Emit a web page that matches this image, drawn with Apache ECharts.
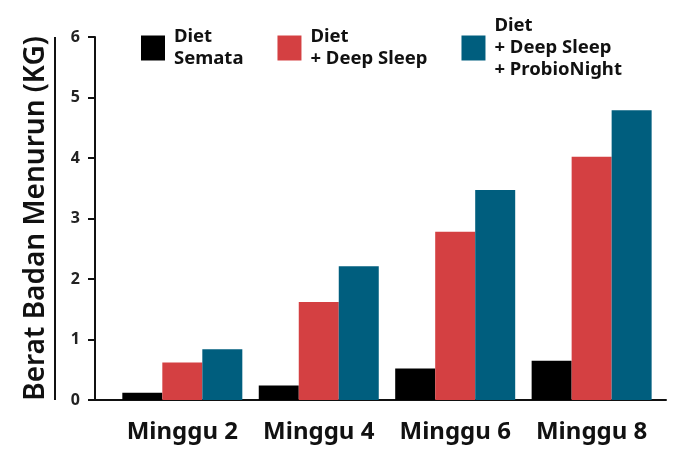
<!DOCTYPE html>
<html>
<head>
<meta charset="utf-8">
<script src="https://cdn.jsdelivr.net/npm/echarts@6/dist/echarts.min.js"></script>
<style>
  html, body { margin: 0; padding: 0; background: #fff; }
  #chart { width: 675px; height: 460px; }
</style>
</head>
<body>
<div id="chart"></div>
<script>
// weeks on the x axis, labelled "Minggu N"
const weeks = [2, 4, 6, 8]
const seriesNames = ['Diet\nSemata', 'Diet\n+ Deep Sleep', 'Diet\n+ Deep Sleep\n+ ProbioNight']
const dietOnly = [0.12, 0.24, 0.52, 0.65]
const dietSleep = [0.62, 1.62, 2.78, 4.02]
const dietSleepProbio = [0.84, 2.21, 3.47, 4.79]
const colors = ['#000000', '#d44042', '#005e7e']

const X_MIN = 0.72
const X_MAX = 9.09

const chart = echarts.init(document.getElementById('chart'))

const makeSeries = (name, data, i) => ({
  name: name,
  type: 'bar',
  data: weeks.map((w, j) => [w, data[j]]),
  barWidth: 40,
  barGap: '0%',
  itemStyle: { color: colors[i] }
})

const series = [
  makeSeries(seriesNames[0], dietOnly, 0),
  makeSeries(seriesNames[1], dietSleep, 1),
  makeSeries(seriesNames[2], dietSleepProbio, 2)
]
// y axis line, drawn at the left edge of the x scale
series[0].markLine = {
  silent: true,
  symbol: 'none',
  z: 10,
  label: { show: false },
  emphasis: { disabled: true },
  lineStyle: { color: '#111', width: 2, type: 'solid' },
  data: [{ xAxis: X_MIN }]
}

const option = {
  animation: false,
  legend: {
    left: 141,
    top: 15,
    padding: 0,
    itemWidth: 24,
    itemHeight: 25,
    itemGap: 34,
    icon: 'rect',
    data: seriesNames,
    textStyle: {
      fontFamily: 'Noto Sans',
      fontSize: 18.5,
      fontWeight: 'bold',
      lineHeight: 22,
      color: '#111',
      padding: [0, 0, 0, 4]
    }
  },
  grid: {
    left: 95,
    right: 9,
    top: 37,
    bottom: 60,
    outerBoundsMode: 'none'
  },
  xAxis: {
    type: 'value',
    min: X_MIN,
    max: X_MAX,
    splitLine: { show: false },
    axisTick: { show: false },
    axisLine: { show: true, onZero: false, lineStyle: { color: '#111', width: 2 } },
    axisLabel: {
      customValues: weeks,
      formatter: 'Minggu {value}',
      margin: 20,
      fontFamily: 'Noto Sans',
      fontSize: 24,
      fontWeight: 'bold',
      color: '#111'
    }
  },
  yAxis: {
    type: 'value',
    min: 0,
    max: 6,
    interval: 1,
    name: 'Berat Badan Menurun (KG)',
    nameLocation: 'middle',
    nameGap: 45,
    nameTextStyle: {
      fontFamily: 'Noto Sans',
      fontSize: 28,
      fontWeight: 600,
      color: '#111'
    },
    splitLine: { show: false },
    axisLine: { show: true, lineStyle: { color: '#111', width: 2 } },
    axisTick: { show: true, length: 7, lineStyle: { color: '#111', width: 2 } },
    axisLabel: {
      margin: 15,
      fontFamily: 'Noto Sans',
      fontSize: 16,
      fontWeight: 'bold',
      color: '#222'
    }
  },
  series: series
}

chart.setOption(option)
</script>
</body>
</html>
